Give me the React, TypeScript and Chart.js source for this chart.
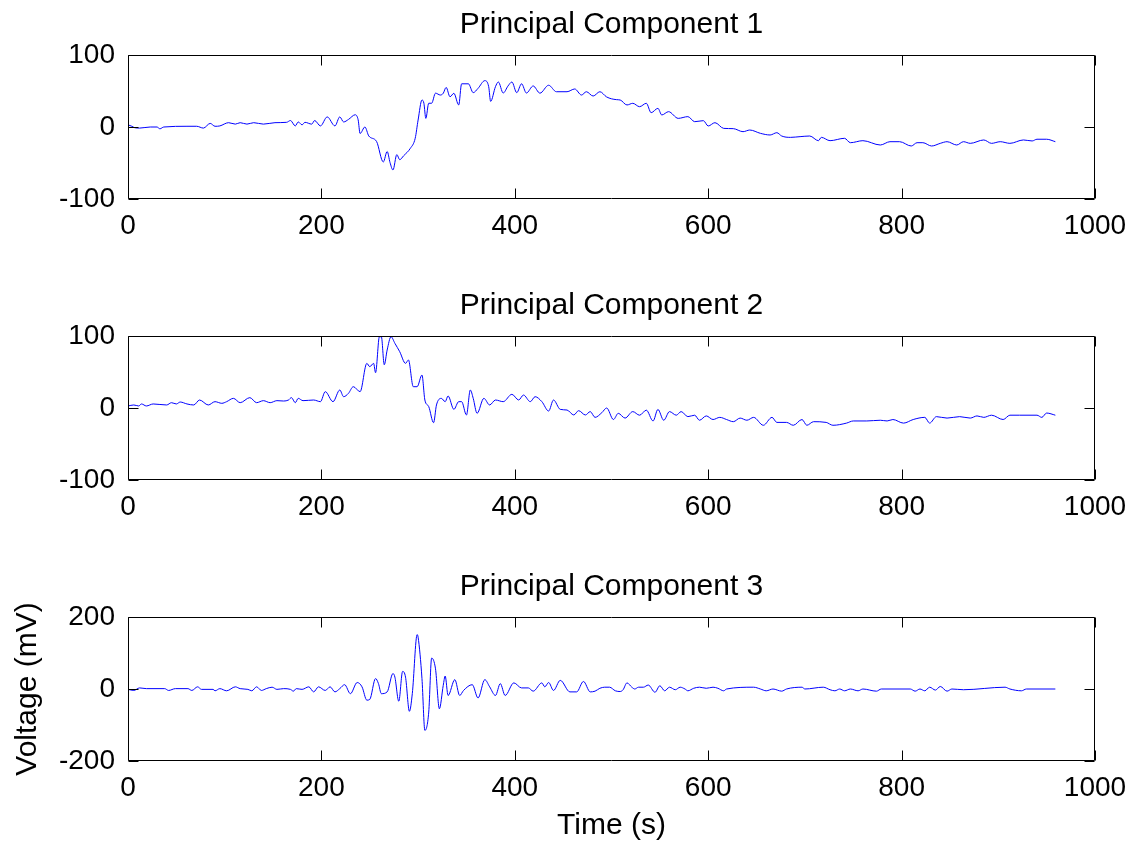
import React, { useEffect, useRef } from 'react';
import { Chart, registerables } from 'chart.js';

Chart.register(...registerables);

// ---------- data ----------
const titles = ['Principal Component 1', 'Principal Component 2', 'Principal Component 3'];
const timeTicks = [0, 200, 400, 600, 800, 1000];
const pc1Ticks = [-100, 0, 100];
const pc2Ticks = [-100, 0, 100];
const pc3Ticks = [-200, 0, 200];
const xAxisLabel = 'Time (s)';
const yAxisLabel = 'Voltage (mV)';

const pc1T = [0, 4, 7, 12, 23, 30, 33, 37, 61, 71, 78, 85, 90, 95, 104, 111, 116, 123, 130, 140, 152, 164, 168, 173, 176, 180, 183, 190, 193, 199, 206, 214, 219, 223, 228, 235, 238,
  240, 245, 249, 257, 264, 268, 271, 274, 278, 281, 285, 292, 297, 300, 304, 306, 308, 311, 314, 318, 323, 326, 329, 333, 337, 342, 345, 352, 357, 362, 369, 373, 375, 380, 383, 388, 393, 397, 402, 407, 412, 419, 426, 435, 443, 454, 462, 469, 474, 481,
  488, 495, 505, 509, 516, 522, 529, 536, 541, 548, 552, 559, 569, 579, 586, 595, 600, 607, 616, 626, 636, 643, 654, 664, 671, 676, 685, 695, 705, 714, 717, 726, 741, 747, 760, 778, 788, 798, 810, 816, 822, 831, 840, 847, 857, 864, 871, 885, 893, 902, 912, 926, 935, 940, 950, 959];
const pc1V = [3, 1, -1, -1.5, 0, 0, -2.5, 0, 1, 1, -1.5, 5, 1, 1.5, 6, 4, 6, 4, 6, 4, 6, 6.5, 9, 1.5, 7, 3, 6.5, 4, 9, 1.5, 14, 1.5, 14, 7, 10.5, 17, 10,
  -9, 0, -12.5, -20, -48.6, -34, -49.5, -59.7, -38.4, -45.4, -40, -29.6, -15.7, 9.7, 37.5, 32.9, 12, 33, 33, 47, 44.4, 46.8, 55, 42, 46.8, 30.6, 60, 60, 47.7, 53.7, 64.4, 56, 35.6, 56, 62.5, 47.2, 57, 62.5, 47.7, 60, 47.2, 57, 47, 58, 49, 49, 52.8, 44.4, 49, 43,
  49, 41.7, 38, 37.5, 30.6, 32.9, 28.2, 32.9, 19.9, 25.9, 16.7, 21.3, 12, 14.4, 7.4, 8.8, 1.4, 6, -1.9, -2.3, -6.5, -4.2, -8.8, -11.1, -7.9, -12.5, -14.4, -13.4, -12.5, -19, -14.4, -19, -15.7, -21.8, -19, -25, -20.4, -20.4, -26.4, -21.8, -21.8, -26.4, -22.7, -20.4, -25, -20.4, -22.7, -18, -22.7, -20.4, -22.7, -18, -19.4, -17, -17, -20.4];

const pc2T = [0, 6, 11, 14, 19, 26, 40, 45, 50, 54, 61, 68, 74, 83, 90, 97, 102, 109, 116, 126, 133, 140, 147, 154, 161, 166, 169, 173, 176, 181, 192, 199, 204, 212, 219, 223, 228, 233, 240,
  247, 250, 254, 256, 260, 262, 265, 268, 272, 276, 281, 287, 290, 295, 299, 304, 307, 311, 316, 319, 324, 328, 331, 337, 342, 345, 350, 354, 357, 361, 368, 374, 380, 388, 397, 404, 409, 416, 421, 428, 435, 440, 447, 454, 461, 466, 473, 478, 483, 490,
  495, 502, 507, 514, 522, 529, 536, 543, 548, 554, 560, 567, 572, 579, 586, 591, 598, 605, 612, 619, 626, 633, 640, 647, 657, 666, 671, 681, 688, 697, 702, 709, 722, 729, 743, 750, 764, 778, 785, 791, 802, 812, 824, 829, 836, 847, 860, 871, 878, 885, 893, 905, 912, 922, 940, 945, 950, 959];
const pc2V = [2.8, 4.2, 2.8, 5.6, 2.8, 5.6, 4.2, 7.4, 5.6, 8.3, 5.6, 4.2, 11.1, 4.2, 8.8, 6.5, 8.8, 13.4, 7.4, 14.4, 7.4, 10.2, 7.4, 10.2, 9.7, 11.1, 14.4, 7.4, 13.4, 10.2, 11.1, 8.8, 22.7, 8.8, 25, 15.7, 20.4, 29.6, 22.7,
  62, 57.4, 62, 49, 99, 99, 60, 80.5, 99, 89.8, 78.2, 62, 66.7, 29.6, 29.6, 45.8, 11.1, 1.9, -20.4, 4.2, 13.4, 8.8, 16.7, -1.9, 8.8, 8.8, -9.7, 25, 13.4, -7.4, 13.4, 4.2, 11.1, 8.8, 19, 11.1, 18, 8.8, 15.7, 8.8, -4.2, 11.1, -1.9, -2.8, -9.7, -3.7, -9.7, -5, -13, -6.5,
  0, -16, -7.4, -14, -5, -10, -3, -18, -2, -17, -5, -10, -5, -12, -10, -17, -11, -16, -13, -16, -19, -14, -17, -13, -24, -13, -20, -20, -24, -16, -24, -19, -20, -24, -21, -18, -18, -17, -18, -16, -21, -16, -13, -21, -12, -14, -12, -14, -11, -13, -10, -16, -10, -10, -10, -13, -7, -10];

const pc3T = [0, 6, 12, 19, 38, 42, 49, 62, 66, 72, 76, 88, 90, 95, 102, 111, 116, 124, 128, 133, 138, 143, 149, 154, 161, 168, 171, 174, 180, 187, 192, 197, 204, 209, 214, 219, 224, 230, 237, 242,
  247, 250, 256, 259, 262, 268, 274, 276, 280, 284, 287, 291, 294, 299, 300, 304, 307, 311, 314, 318, 322, 326, 328, 331, 338, 343, 347, 356, 362, 369, 374, 380, 385, 390, 399, 407, 414, 419, 428, 431, 435, 440, 447, 457, 464, 471, 478, 483,
  488, 493, 498, 504, 509, 512, 516, 521, 524, 528, 533, 538, 545, 550, 555, 560, 566, 571, 576, 579, 585, 591, 598, 605, 610, 616, 619, 647, 654, 660, 667, 676, 681, 697, 700, 719, 726, 731, 736, 741, 747, 755, 760, 774, 779, 809, 814, 819, 824, 829, 835, 840, 847, 852, 864, 907, 912, 924, 929, 959];
const pc3V = [-1, -4, 3, 1, 1, -4, 1, 1, -4, 6, -1, -1, -5, 1, -5, 6, 1, -1, -5, 6, -4, 1, 5, -1, 1, -1, -6, 1, -1, 6, -8, 6, -4, 6, -8, 1, 12, -13, 18, 6,
  -31, -29, 29, 15, -13, -8, 43, 33, -34, 49, 33, -62, -13, 151, 144, 29, -115, -64, 86, 56, -55, 10, 36, -18, 26, -18, -4, 12, -25, 26, 6, -18, 15, -18, 17, 3, 3, -6, 17, 6, 18, -4, 24, -8, -8, 21, -8, -6,
  2, 5, 5, -5, -7, -2, 17, 5, 0, 5, 5, 11, -9, 9, -5, 5, -2, 5, 0, -5, 2, 5, 2, 5, 2, -5, 0, 5, 0, -5, 0, -6, 0, 5, 0, 5, -2, -5, 0, -5, 0, -5, 0, -6, 0, 0, -6, 0, -5, 5, -3, 7, -6, 0, -2, 5, 0, -5, 0, 0];

// ---------- styling ----------
const FONT = "'Liberation Sans', Arial, Helvetica, sans-serif";
const W = 1133;
const AXIS_LEFT = 128;
const AXIS_RIGHT = 1095;
const TITLE_BAND = 55;
const PLOT_BOTTOM = 199;

const framePlugin = {
  id: 'matlabFrame',
  afterDraw(chart: any) {
    const { ctx, chartArea } = chart;
    const { left, right, top, bottom } = chartArea;
    const xs = chart.scales.x;
    const ys = chart.scales.y;
    const L = Math.round(left) + 0.5;
    const R = Math.round(right) - 0.5;
    const T = Math.round(top) + 0.5;
    const B = Math.round(bottom) - 0.5;
    ctx.save();
    ctx.strokeStyle = '#000';
    ctx.lineWidth = 1;
    ctx.beginPath();
    ctx.moveTo(L, T); ctx.lineTo(R, T); ctx.lineTo(R, B); ctx.lineTo(L, B); ctx.closePath();
    const len = 10;
    xs.ticks.forEach((tk: any) => {
      const px = Math.round(xs.getPixelForValue(tk.value)) + 0.5;
      ctx.moveTo(px, T); ctx.lineTo(px, T + len);
      ctx.moveTo(px, B); ctx.lineTo(px, B - len);
    });
    ys.ticks.forEach((tk: any) => {
      const py = Math.round(ys.getPixelForValue(tk.value)) + 0.5;
      ctx.moveTo(L, py); ctx.lineTo(L + len, py);
      ctx.moveTo(R, py); ctx.lineTo(R - len, py);
    });
    ctx.stroke();
    ctx.restore();
  },
};

type PanelProps = {
  index: number;
  top: number;
  height: number;
  t: number[];
  v: number[];
  yTicks: number[];
  last: boolean;
};

function noPad(s: any) {
  s.paddingLeft = 0;
  s.paddingRight = 0;
  s.paddingTop = 0;
  s.paddingBottom = 0;
}

function Panel({ index, top, height, t, v, yTicks, last }: PanelProps) {
  const ref = useRef<HTMLCanvasElement | null>(null);
  useEffect(() => {
    if (!ref.current) return;
    const xHeight = height - PLOT_BOTTOM;
    const chart = new Chart(ref.current, {
      type: 'line',
      data: {
        datasets: [
          {
            data: t.map((x, i) => ({ x, y: v[i] })),
            borderColor: '#0000FF',
            borderWidth: 1,
            pointRadius: 0,
            cubicInterpolationMode: 'monotone',
            fill: false,
            xAxisID: 'x',
            yAxisID: 'y',
          },
        ],
      },
      options: {
        animation: false,
        responsive: false,
        maintainAspectRatio: false,
        events: [],
        layout: { padding: { left: 0, right: W - AXIS_RIGHT, top: 0, bottom: 0 } },
        plugins: {
          legend: { display: false },
          tooltip: { enabled: false },
          title: { display: false },
        },
        scales: {
          x: {
            type: 'linear',
            position: 'bottom',
            min: timeTicks[0],
            max: timeTicks[timeTicks.length - 1],
            afterBuildTicks: (s: any) => {
              s.ticks = timeTicks.map((value) => ({ value }));
            },
            afterFit: (s: any) => {
              s.height = xHeight;
              noPad(s);
            },
            grid: { display: false, drawTicks: false },
            border: { display: false },
            ticks: {
              color: '#000',
              font: { family: FONT, size: 28 },
              padding: 10,
              maxRotation: 0,
              autoSkip: false,
              callback: (value: any) => String(value),
            },
            title: {
              display: last,
              text: xAxisLabel,
              color: '#000',
              font: { family: FONT, size: 30 },
              padding: { top: 0, bottom: 2 },
            },
          },
          xTop: {
            type: 'linear',
            position: 'top',
            display: true,
            min: timeTicks[0],
            max: timeTicks[timeTicks.length - 1],
            afterFit: (s: any) => {
              s.height = TITLE_BAND;
              noPad(s);
            },
            grid: { display: false, drawTicks: false },
            border: { display: false },
            ticks: { display: false },
            title: {
              display: true,
              text: titles[index],
              color: '#000',
              font: { family: FONT, size: 30 },
              padding: { top: 7, bottom: 0 },
            },
          },
          y: {
            type: 'linear',
            min: yTicks[0],
            max: yTicks[yTicks.length - 1],
            afterBuildTicks: (s: any) => {
              s.ticks = yTicks.map((value) => ({ value }));
            },
            afterFit: (s: any) => {
              s.width = AXIS_LEFT;
              noPad(s);
            },
            grid: { display: false, drawTicks: false },
            border: { display: false },
            ticks: {
              color: '#000',
              font: { family: FONT, size: 28 },
              padding: 13,
              autoSkip: false,
              callback: (value: any) => String(value),
            },
            title: {
              display: last,
              text: yAxisLabel,
              color: '#000',
              font: { family: FONT, size: 30 },
              padding: { top: 10, bottom: 0 },
            },
          },
        },
      },
      plugins: [framePlugin],
    } as any);
    return () => chart.destroy();
  }, []);
  return (
    <canvas
      ref={ref}
      width={W}
      height={height}
      style={{ position: 'absolute', left: 0, top, width: W, height, display: 'block' }}
    />
  );
}

export default function App() {
  return (
    <div style={{ position: 'fixed', left: 0, top: 0, width: W, height: 846, background: '#fff', overflow: 'hidden' }}>
      <Panel index={0} top={0} height={281} t={pc1T} v={pc1V} yTicks={pc1Ticks} last={false} />
      <Panel index={1} top={281} height={281} t={pc2T} v={pc2V} yTicks={pc2Ticks} last={false} />
      <Panel index={2} top={562} height={284} t={pc3T} v={pc3V} yTicks={pc3Ticks} last={true} />
    </div>
  );
}
